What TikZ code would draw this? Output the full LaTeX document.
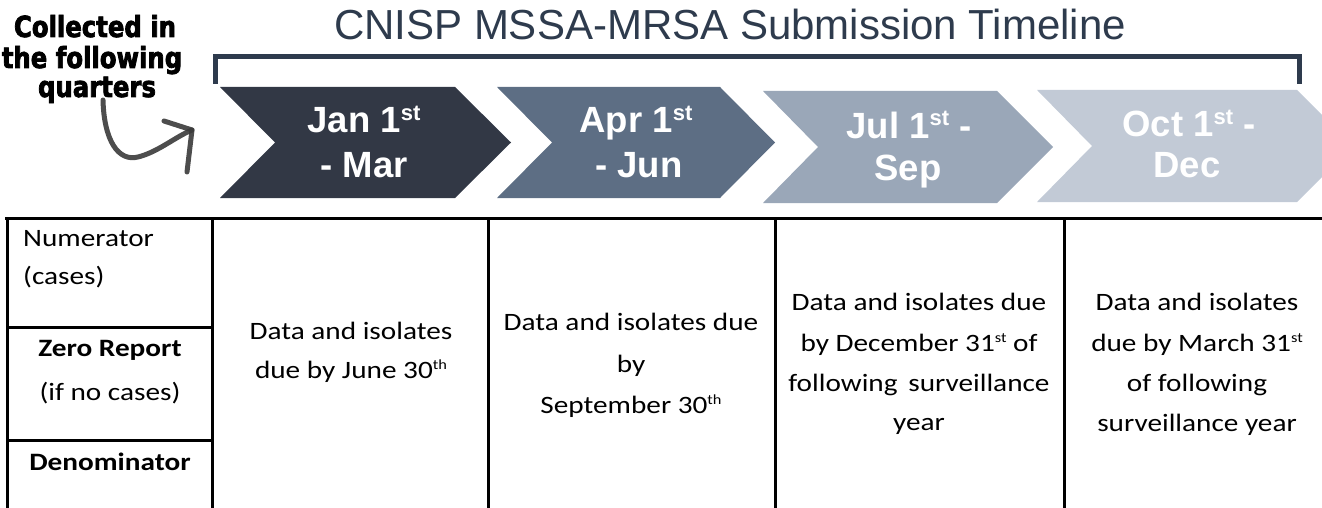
\documentclass[tikz,border=0pt]{standalone}
\usepackage{fontspec}
\setmainfont{Liberation Sans}
\newfontfamily\tabfont[FakeStretch=1.17]{Carlito}
\newfontfamily\heavyfont[FakeBold=2.5,FakeStretch=0.84]{DejaVu Sans Bold}
\definecolor{titlecol}{HTML}{2E3B4D}
\definecolor{cone}{HTML}{323845}
\definecolor{ctwo}{HTML}{5D6E84}
\definecolor{cthree}{HTML}{9AA7B8}
\definecolor{cfour}{HTML}{C2CAD6}
\definecolor{arrowgray}{HTML}{3A3A3A}
\newcommand\chsup[1]{\raisebox{13pt}{\fontsize{22}{22}\selectfont #1}}
\newcommand\tsup[1]{\raisebox{9pt}{\fontsize{14}{14}\selectfont #1}}
\begin{document}
\begin{tikzpicture}[x=1pt,y=-1pt,
  chevtext/.style={anchor=base,inner sep=0pt,text=white,font=\bfseries\fontsize{36.5}{42}\selectfont},
  celltext/.style={anchor=base,inner sep=0pt,font=\tabfont\fontsize{25}{30}\selectfont},
  cellbold/.style={celltext,font=\tabfont\bfseries\fontsize{25}{30}\selectfont},
  heavytext/.style={anchor=base,inner sep=0pt,font=\heavyfont\fontsize{29}{32}\selectfont},
  rule/.style={line width=3pt,black},
  bracketline/.style={line width=5pt,titlecol}]
\useasboundingbox (0,0) rectangle (1322,508);
\begin{scope}
\clip (0,0) rectangle (1322,508);
% title
\node[anchor=base,inner sep=0pt,text=titlecol,font=\fontsize{42}{48}\selectfont] (title) at (730,40) {CNISP MSSA-MRSA Submission Timeline};
% bracket
\coordinate (bl) at (215,84);
\coordinate (br) at (1299,84);
\draw[bracketline] (bl) -- (215,57) -- (1299,57) -- (br);
% collected text
\node[heavytext] (c1) at (95,37) {Collected in};
\node[heavytext] (c2) at (92,68) {the following};
\node[heavytext] (c3) at (97,97) {quarters};
% hand-drawn arrow
\coordinate (as) at (103,100);
\coordinate (at) at (192,130);
\coordinate (ah1) at (164,121);
\coordinate (ah2) at (187,172);
\draw[arrowgray,line width=5pt,line cap=round,line join=round,opacity=0.9]
  (as) .. controls (104,140) and (118,162) .. (138,157)
  .. controls (158,152) and (175,137) .. (at);
\draw[arrowgray,line width=5pt,line cap=round,line join=round,opacity=0.9]
  (ah1) -- (at) -- (ah2);
% chevrons
\fill[cone] (220,87) -- (455,87) -- (511,142.5) -- (455,198) -- (220,198) -- (275,142.5) -- cycle;
\fill[ctwo] (497,87) -- (720,87) -- (775,142.5) -- (720,198) -- (497,198) -- (552,142.5) -- cycle;
\fill[cthree] (763,91) -- (997,91) -- (1053,147) -- (997,203) -- (763,203) -- (818,147) -- cycle;
\fill[cfour] (1037,90) -- (1297,90) -- (1353,146) -- (1297,202) -- (1037,202) -- (1092,146) -- cycle;
\node[chevtext] (j1) at (364,133) {Jan 1\chsup{st}};
\node[chevtext] (j2) at (364,177) {- Mar};
\node[chevtext] (a1) at (636,133) {Apr 1\chsup{st}};
\node[chevtext] (a2) at (639,177) {- Jun};
\node[chevtext] (l1) at (909,139) {Jul 1\chsup{st} -};
\node[chevtext] (l2) at (908,180) {Sep};
\node[chevtext] (o1) at (1189,137) {Oct 1\chsup{st} -};
\node[chevtext] (o2) at (1187,177) {Dec};
% table rules
\draw[rule] (5,218) -- (1330,218);
\foreach \xx in {7,212,488,775,1064} { \draw[rule] (\xx,218) -- (\xx,510); }
\draw[rule] (7,327) -- (212,327);
\draw[rule] (7,440) -- (212,440);
% first column
\node[celltext,anchor=base west] (n1) at (23,246) {Numerator};
\node[celltext,anchor=base west] (n2) at (23,284) {(cases)};
\node[cellbold] (z1) at (110,356) {Zero Report};
\node[celltext] (z2) at (110,400) {(if no cases)};
\node[cellbold] (d1) at (110,470) {Denominator};
% column 2
\node[celltext] (q1a) at (351,339) {Data and isolates};
\node[celltext] (q1b) at (351,378) {due by June 30\tsup{th}};
% column 3
\node[celltext] (q2a) at (631,330) {Data and isolates due};
\node[celltext] (q2b) at (631,372) {by};
\node[celltext] (q2c) at (631,413) {September 30\tsup{th}};
% column 4
\node[celltext] (q3a) at (919,310) {Data and isolates due};
\node[celltext] (q3b) at (919,351) {by December 31\tsup{st} of};
\node[celltext] (q3c) at (919,391) {following\, surveillance};
\node[celltext] (q3d) at (919,430) {year};
% column 5
\node[celltext] (q4a) at (1197,310) {Data and isolates};
\node[celltext] (q4b) at (1197,351) {due by March 31\tsup{st}};
\node[celltext] (q4c) at (1197,391) {of following};
\node[celltext] (q4d) at (1197,431) {surveillance year};
\end{scope}
\end{tikzpicture}
\end{document}
